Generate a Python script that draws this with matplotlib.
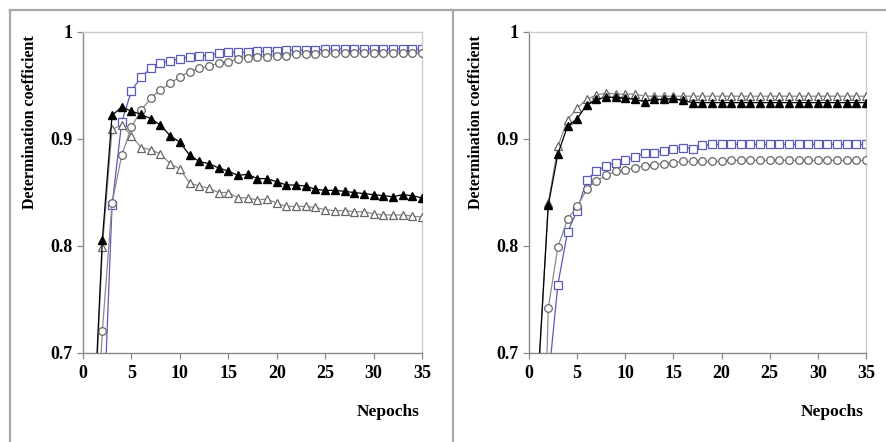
import matplotlib.pyplot as plt
from matplotlib.lines import Line2D

epochs = list(range(1, 36))

# panel 1
p1_filled_tri = [0.613, 0.806, 0.922, 0.930, 0.926, 0.923, 0.919, 0.913, 0.903, 0.897,
                 0.885, 0.879, 0.877, 0.873, 0.870, 0.866, 0.867, 0.863, 0.863, 0.860,
                 0.857, 0.857, 0.856, 0.853, 0.852, 0.852, 0.851, 0.850, 0.849, 0.848,
                 0.847, 0.846, 0.848, 0.847, 0.845]
p1_open_tri = [0.600, 0.799, 0.909, 0.913, 0.903, 0.892, 0.890, 0.886, 0.877, 0.872,
               0.859, 0.856, 0.854, 0.850, 0.850, 0.845, 0.845, 0.843, 0.844, 0.840,
               0.837, 0.837, 0.837, 0.836, 0.834, 0.833, 0.833, 0.832, 0.832, 0.830,
               0.829, 0.829, 0.829, 0.828, 0.827]
p1_circle = [0.550, 0.721, 0.840, 0.885, 0.911, 0.927, 0.938, 0.946, 0.952, 0.958,
             0.963, 0.966, 0.968, 0.971, 0.972, 0.975, 0.976, 0.977, 0.977, 0.978,
             0.978, 0.979, 0.979, 0.979, 0.980, 0.980, 0.980, 0.980, 0.980, 0.980,
             0.980, 0.980, 0.980, 0.980, 0.980]
p1_square = [0.500, 0.608, 0.838, 0.916, 0.945, 0.958, 0.966, 0.971, 0.973, 0.975,
             0.977, 0.978, 0.978, 0.980, 0.981, 0.981, 0.981, 0.982, 0.982, 0.982,
             0.983, 0.983, 0.983, 0.983, 0.984, 0.984, 0.984, 0.984, 0.984, 0.984,
             0.984, 0.984, 0.984, 0.984, 0.984]

# panel 2
p2_filled_tri = [0.685, 0.838, 0.886, 0.912, 0.919, 0.932, 0.937, 0.939, 0.939, 0.938,
                 0.937, 0.935, 0.937, 0.937, 0.938, 0.936, 0.934, 0.934, 0.934, 0.934,
                 0.934, 0.934, 0.934, 0.934, 0.934, 0.934, 0.934, 0.934, 0.934, 0.934,
                 0.934, 0.934, 0.934, 0.934, 0.934]
p2_open_tri = [0.680, 0.840, 0.893, 0.918, 0.929, 0.937, 0.941, 0.943, 0.942, 0.942,
               0.942, 0.940, 0.940, 0.940, 0.940, 0.940, 0.940, 0.940, 0.940, 0.940,
               0.940, 0.940, 0.940, 0.940, 0.940, 0.940, 0.940, 0.940, 0.940, 0.940,
               0.940, 0.940, 0.940, 0.940, 0.940]
p2_circle = [0.420, 0.742, 0.799, 0.825, 0.837, 0.853, 0.861, 0.866, 0.870, 0.871,
             0.873, 0.875, 0.876, 0.877, 0.878, 0.879, 0.879, 0.879, 0.879, 0.879,
             0.880, 0.880, 0.880, 0.880, 0.880, 0.880, 0.880, 0.880, 0.880, 0.880,
             0.880, 0.880, 0.880, 0.880, 0.880]
p2_square = [0.550, 0.673, 0.764, 0.813, 0.833, 0.862, 0.870, 0.875, 0.878, 0.880,
             0.883, 0.887, 0.887, 0.889, 0.891, 0.892, 0.891, 0.894, 0.895, 0.895,
             0.895, 0.895, 0.895, 0.895, 0.895, 0.895, 0.895, 0.895, 0.895, 0.895,
             0.895, 0.895, 0.895, 0.895, 0.895]

x_ticks = [0, 5, 10, 15, 20, 25, 30, 35]
y_ticks = [0.7, 0.8, 0.9, 1.0]
y_tick_labels = ["0.7", "0.8", "0.9", "1"]

BLUE = "#5a5ab8"
GRAY = "#8a8a8a"
FRAME = "#a8a8a8"

plt.rcParams["font.family"] = "Liberation Serif"
plt.rcParams["font.weight"] = "bold"

fig = plt.figure(figsize=(8.86, 4.42), dpi=100)

# outer frame lines around the two panels
fig.add_artist(Line2D([10 / 886, 1.0], [1 - 10 / 442] * 2, color=FRAME, lw=1.6))
fig.add_artist(Line2D([10 / 886] * 2, [0, 1 - 10 / 442], color=FRAME, lw=1.6))
fig.add_artist(Line2D([453 / 886] * 2, [0, 1 - 10 / 442], color=FRAME, lw=1.6))


def draw_panel(ax, filled_tri, open_tri, circle, square):
    ms = 5.5
    ax.plot(epochs, square, color=BLUE, lw=0.9, marker="s", ms=ms,
            mfc="white", mec=BLUE, mew=0.9, zorder=2)
    ax.plot(epochs, circle, color=GRAY, lw=0.9, marker="o", ms=ms,
            mfc="white", mec="#666666", mew=0.9, zorder=3)
    ax.plot(epochs, open_tri, color=GRAY, lw=0.9, marker="^", ms=ms,
            mfc="white", mec="#666666", mew=0.9, zorder=4)
    ax.plot(epochs, filled_tri, color="black", lw=0.9, marker="^", ms=ms,
            mfc="black", mec="black", zorder=5)

    ax.set_xlim(0, 35)
    ax.set_ylim(0.7, 1.0)
    ax.set_xticks(x_ticks)
    ax.set_yticks(y_ticks)
    ax.set_yticklabels(y_tick_labels)
    ax.tick_params(labelsize=13, length=4, color="#888888", width=0.9)
    ax.tick_params(axis="x", pad=5)
    for side in ["left", "bottom"]:
        ax.spines[side].set_color("#888888")
        ax.spines[side].set_linewidth(1.0)
    for side in ["top", "right"]:
        ax.spines[side].set_color("#cccccc")
        ax.spines[side].set_linewidth(1.0)
    ax.set_ylabel("Determination coefficient", fontsize=11.5, fontweight="bold")
    ax.yaxis.set_label_coords(-0.133, 0.72)
    ax.set_xlabel("Nepochs", fontsize=12.5, fontweight="bold")
    ax.xaxis.set_label_coords(0.9, -0.16)


ax1 = fig.add_axes([83 / 886, 1 - 353 / 442, 339 / 886, 321 / 442])
draw_panel(ax1, p1_filled_tri, p1_open_tri, p1_circle, p1_square)

ax2 = fig.add_axes([529 / 886, 1 - 353 / 442, 337 / 886, 321 / 442])
draw_panel(ax2, p2_filled_tri, p2_open_tri, p2_circle, p2_square)

fig.savefig("out.png", dpi=100)
